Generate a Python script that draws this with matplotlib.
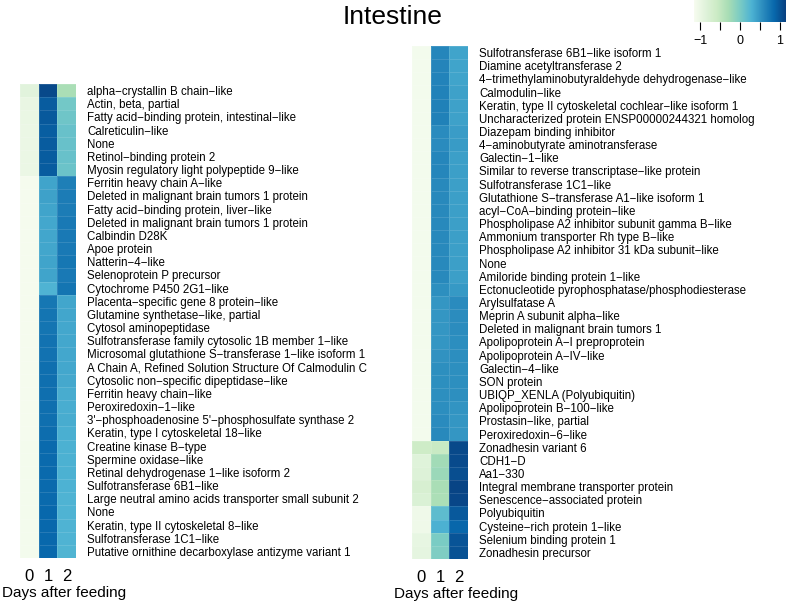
import numpy as np
import matplotlib
matplotlib.use("Agg")
import matplotlib.pyplot as plt
from matplotlib.colors import Normalize

# ---------------------------
# DATA
# ---------------------------
days = ["0", "1", "2"]

left_genes = [
    "alpha\u2212crystallin B chain\u2212like",
    "Actin, beta, partial",
    "Fatty acid\u2212binding protein, intestinal\u2212like",
    "Calreticulin\u2212like",
    "None",
    "Retinol\u2212binding protein 2",
    "Myosin regulatory light polypeptide 9\u2212like",
    "Ferritin heavy chain A\u2212like",
    "Deleted in malignant brain tumors 1 protein",
    "Fatty acid\u2212binding protein, liver\u2212like",
    "Deleted in malignant brain tumors 1 protein",
    "Calbindin D28K",
    "Apoe protein",
    "Natterin\u22124\u2212like",
    "Selenoprotein P precursor",
    "Cytochrome P450 2G1\u2212like",
    "Placenta\u2212specific gene 8 protein\u2212like",
    "Glutamine synthetase\u2212like, partial",
    "Cytosol aminopeptidase",
    "Sulfotransferase family cytosolic 1B member 1\u2212like",
    "Microsomal glutathione S\u2212transferase 1\u2212like isoform 1",
    "A Chain A, Refined Solution Structure Of Calmodulin C",
    "Cytosolic non\u2212specific dipeptidase\u2212like",
    "Ferritin heavy chain\u2212like",
    "Peroxiredoxin\u22121\u2212like",
    "3'\u2212phosphoadenosine 5'\u2212phosphosulfate synthase 2",
    "Keratin, type I cytoskeletal 18\u2212like",
    "Creatine kinase B\u2212type",
    "Spermine oxidase\u2212like",
    "Retinal dehydrogenase 1\u2212like isoform 2",
    "Sulfotransferase 6B1\u2212like",
    "Large neutral amino acids transporter small subunit 2",
    "None",
    "Keratin, type II cytoskeletal 8\u2212like",
    "Sulfotransferase 1C1\u2212like",
    "Putative ornithine decarboxylase antizyme variant 1",
]

left_day0 = [-0.87, -0.97, -0.98, -1.0, -1.0, -1.0, -1.0, -1.12, -1.12, -1.12,
             -1.12, -1.12, -1.12, -1.12, -1.12, -1.12, -1.12, -1.12, -1.12, -1.12,
             -1.12, -1.12, -1.12, -1.12, -1.12, -1.12, -1.12, -1.1, -1.1, -1.1,
             -1.1, -1.1, -1.1, -1.1, -1.1, -1.1]
left_day1 = [1.08, 0.95, 0.97, 0.93, 0.95, 0.95, 0.95, 0.4, 0.42, 0.4,
             0.37, 0.38, 0.38, 0.4, 0.4, 0.28, 0.74, 0.76, 0.76, 0.78,
             0.78, 0.8, 0.8, 0.8, 0.8, 0.8, 0.82, 0.84, 0.84, 0.84,
             0.84, 0.84, 0.86, 0.86, 0.86, 0.86]
left_day2 = [-0.3, 0.05, 0.08, 0.12, 0.12, 0.12, 0.1, 0.68, 0.7, 0.7,
             0.72, 0.72, 0.72, 0.74, 0.72, 0.76, 0.38, 0.38, 0.37, 0.37,
             0.37, 0.37, 0.36, 0.34, 0.33, 0.34, 0.32, 0.3, 0.3, 0.3,
             0.29, 0.28, 0.28, 0.28, 0.28, 0.27]

right_genes = [
    "Sulfotransferase 6B1\u2212like isoform 1",
    "Diamine acetyltransferase 2",
    "4\u2212trimethylaminobutyraldehyde dehydrogenase\u2212like",
    "Calmodulin\u2212like",
    "Keratin, type II cytoskeletal cochlear\u2212like isoform 1",
    "Uncharacterized protein ENSP00000244321 homolog",
    "Diazepam binding inhibitor",
    "4\u2212aminobutyrate aminotransferase",
    "Galectin\u22121\u2212like",
    "Similar to reverse transcriptase\u2212like protein",
    "Sulfotransferase 1C1\u2212like",
    "Glutathione S\u2212transferase A1\u2212like isoform 1",
    "acyl\u2212CoA\u2212binding protein\u2212like",
    "Phospholipase A2 inhibitor subunit gamma B\u2212like",
    "Ammonium transporter Rh type B\u2212like",
    "Phospholipase A2 inhibitor 31 kDa subunit\u2212like",
    "None",
    "Amiloride binding protein 1\u2212like",
    "Ectonucleotide pyrophosphatase/phosphodiesterase",
    "Arylsulfatase A",
    "Meprin A subunit alpha\u2212like",
    "Deleted in malignant brain tumors 1",
    "Apolipoprotein A\u2212I preproprotein",
    "Apolipoprotein A\u2212IV\u2212like",
    "Galectin\u22124\u2212like",
    "SON protein",
    "UBIQP_XENLA (Polyubiquitin)",
    "Apolipoprotein B\u2212100\u2212like",
    "Prostasin\u2212like, partial",
    "Peroxiredoxin\u22126\u2212like",
    "Zonadhesin variant 6",
    "CDH1\u2212D",
    "Aa1\u2212330",
    "Integral membrane transporter protein",
    "Senescence\u2212associated protein",
    "Polyubiquitin",
    "Cysteine\u2212rich protein 1\u2212like",
    "Selenium binding protein 1",
    "Zonadhesin precursor",
]

right_day0 = [-1.1, -1.1, -1.1, -1.1, -1.1, -1.1, -1.1, -1.1, -1.1, -1.1,
              -1.1, -1.1, -1.1, -1.1, -1.1, -1.1, -1.1, -1.1, -1.1, -1.1,
              -1.1, -1.1, -1.1, -1.1, -1.1, -1.1, -1.1, -1.1, -1.1, -1.1,
              -0.6, -0.85, -0.82, -0.72, -0.78, -1.05, -1.05, -0.95, -0.92]
right_day1 = [0.62, 0.63, 0.64, 0.65, 0.66, 0.66, 0.58, 0.58, 0.62, 0.62,
              0.6, 0.6, 0.6, 0.6, 0.6, 0.6, 0.6, 0.6, 0.55, 0.5,
              0.5, 0.5, 0.5, 0.53, 0.55, 0.55, 0.55, 0.56, 0.58, 0.6,
              -0.55, -0.25, -0.2, -0.3, -0.32, 0.18, 0.3, 0.0, -0.02]
right_day2 = [0.4, 0.4, 0.4, 0.42, 0.42, 0.42, 0.45, 0.46, 0.44, 0.44,
              0.44, 0.44, 0.44, 0.44, 0.44, 0.44, 0.44, 0.44, 0.48, 0.58,
              0.57, 0.57, 0.56, 0.56, 0.55, 0.55, 0.55, 0.52, 0.5, 0.5,
              1.08, 1.07, 1.05, 1.12, 1.1, 0.97, 0.87, 1.0, 1.02]

# ---------------------------
# PLOT
# ---------------------------
plt.rcParams['font.family'] = ['Liberation Sans', 'DejaVu Sans']
W, H = 786, 602
fig = plt.figure(figsize=(W / 100, H / 100), dpi=100)
cmap = plt.get_cmap("GnBu")
norm = Normalize(vmin=-1.15, vmax=1.15)


def heatmap(rect, genes, cols):
    x0, y0, x1, y1 = rect
    ax = fig.add_axes([x0 / W, 1 - y1 / H, (x1 - x0) / W, (y1 - y0) / H])
    mat = np.column_stack(cols)
    ax.pcolormesh(mat, cmap=cmap, norm=norm, edgecolors=(1, 1, 1, 0.12), linewidth=0.4)
    ax.set_xlim(0, len(cols))
    ax.set_ylim(len(genes), 0)
    ax.set_xticks(np.arange(len(cols)) + 0.5)
    ax.set_xticklabels(days, fontsize=12)
    ax.set_yticks(np.arange(len(genes)) + 0.5)
    ax.set_yticklabels(genes, fontsize=8.3)
    ax.yaxis.tick_right()
    ax.tick_params(axis="y", length=0, pad=8)
    ax.tick_params(axis="x", length=0, pad=8)
    ax.set_xlabel("Days after feeding", fontsize=11, labelpad=1)
    # label sits off-centre, to the right of the columns' middle
    ax.xaxis.set_label_coords(0.79, -0.06 * 474 / (y1 - y0))
    for s in ax.spines.values():
        s.set_visible(False)
    return ax


heatmap((20, 84, 76, 558), left_genes, [left_day0, left_day1, left_day2])
heatmap((412, 46, 468, 559), right_genes, [right_day0, right_day1, right_day2])

fig.text(393 / W, 1 - 17 / H, "Intestine", ha="center", va="center", fontsize=19)

# colour key
cax = fig.add_axes([694 / W, 1 - 22 / H, 92 / W, 22 / H])
grad = np.linspace(-1.15, 1.15, 256).reshape(1, -1)
cax.imshow(grad, aspect="auto", cmap=cmap, norm=norm, extent=[-1.15, 1.15, 0, 1])
cax.set_yticks([])
cax.set_xticks([-1, -0.5, 0, 0.5, 1])
cax.set_xticklabels(["\u22121", "", "0", "", "1"], fontsize=9)
cax.tick_params(axis="x", length=6, width=0.8, pad=3)
for s in cax.spines.values():
    s.set_visible(False)

fig.savefig("out.png", dpi=100)
